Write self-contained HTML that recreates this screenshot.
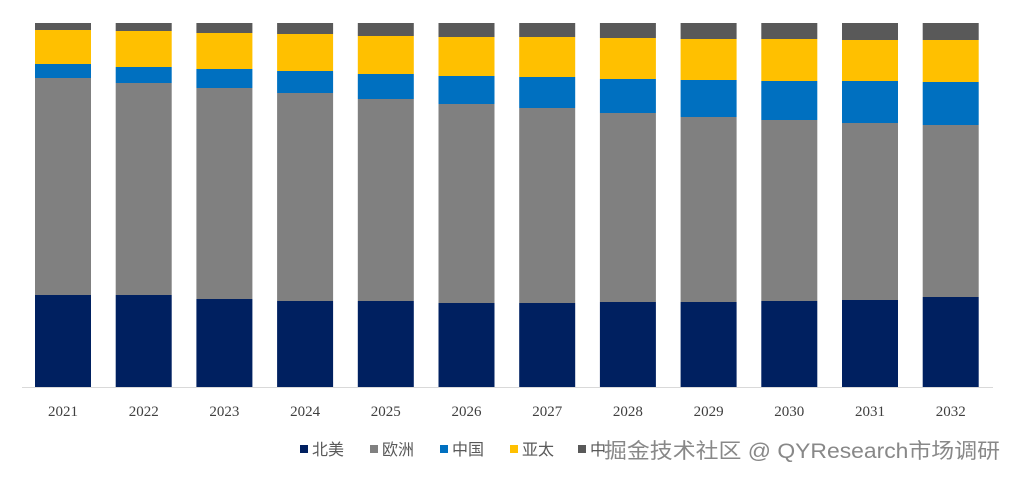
<!DOCTYPE html>
<html><head><meta charset="utf-8"><style>
body{margin:0;background:#fff;width:1015px;height:479px;overflow:hidden}
svg{display:block}
</style></head><body>
<svg width="1015" height="479" xmlns="http://www.w3.org/2000/svg">
<g id="bars"></g>
<line x1="22" y1="387.5" x2="993" y2="387.5" stroke="#d9d9d9" stroke-width="1"/>
<g font-family="Liberation Serif, serif" font-size="15" fill="#404040" text-anchor="middle" id="lbl"></g>
<g font-family="Liberation Sans, Noto Sans CJK SC, sans-serif" font-size="16" fill="#595959">
<rect x="300" y="445" width="8" height="8" fill="#002060"/><text x="312" y="455">北美</text>
<rect x="370" y="445" width="8" height="8" fill="#808080"/><text x="382" y="455">欧洲</text>
<rect x="440" y="445" width="8" height="8" fill="#0070C0"/><text x="452" y="455">中国</text>
<rect x="510" y="445" width="8" height="8" fill="#FFC000"/><text x="522" y="455">亚太</text>
<rect x="578" y="445" width="8" height="8" fill="#595959"/><text x="590" y="455">中</text>
<text x="604" y="458" font-size="21" fill="#888" textLength="396" lengthAdjust="spacingAndGlyphs">掘金技术社区 @ QYResearch市场调研</text>
</g>
</svg>
<script>
const d=[[23,30,64,78,295],[23,31,67,83,295],[23,33,69,88,299],[23,34,71,93,301],[23,36,74,99,301],[23,37,76,104,303],[23,37,77,108,303],[23,38,79,113,302],[23,39,80,117,302],[23,39,81,120,301],[23,40,81,123,300],[23,40,82,125,297]];
const c=["#595959","#FFC000","#0070C0","#808080","#002060"];
let s="",l="";
d.forEach((r,i)=>{const x=35+i*80.7;const ys=[...r,387];
for(let k=0;k<5;k++)s+=`<rect x="${x}" y="${ys[k]}" width="56" height="${ys[k+1]-ys[k]}" fill="${c[k]}"/>`;
l+=`<text x="${x+28}" y="416">${2021+i}</text>`;});
document.getElementById("bars").innerHTML=s;document.getElementById("lbl").innerHTML=l;
</script>
</body></html>
